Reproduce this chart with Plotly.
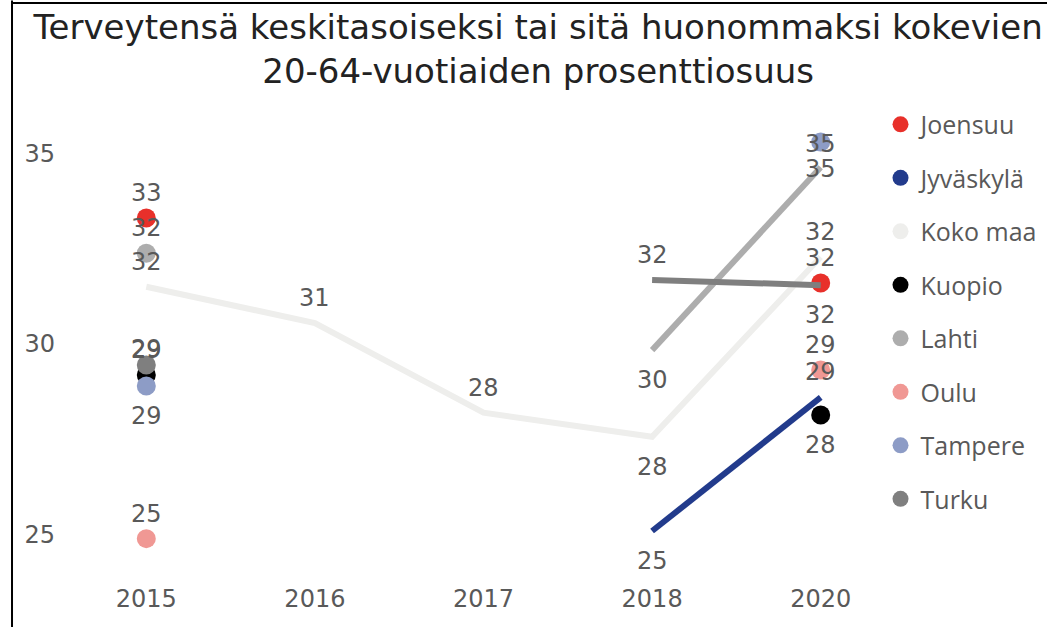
import plotly.graph_objects as go

# ---- data ----
years = ["2015", "2016", "2017", "2018", "2020"]
series_names = ["Joensuu", "Jyväskylä", "Koko maa", "Kuopio", "Lahti", "Oulu", "Tampere", "Turku"]
joensuu = [33.3, None, None, None, 31.6]
jyvaskyla = [None, None, None, 25.1, 28.6]
koko_maa = [31.5, 30.55, 28.2, 27.57, 32.28]
kuopio = [29.19, None, None, None, 28.14]
lahti = [32.38, None, None, 29.84, 34.63]
oulu = [24.9, None, None, None, 29.32]
tampere = [28.9, None, None, None, 35.29]
turku = [29.45, None, None, 31.68, 31.54]
y_ticks = [25, 30, 35]

series_values = [joensuu, jyvaskyla, koko_maa, kuopio, lahti, oulu, tampere, turku]

# ---- styles ----
colors = ["#E8302A", "#223B8C", "#EEEEEC", "#000000", "#ADADAD", "#F09894", "#8D9CC6", "#7F7F7F"]
# data label placement per point: "a" above, "s" slightly above, "b" below, "c" centred
label_pos = [
    ["a", None, None, None, "a"],
    [None, None, None, "b", "a"],
    ["a", "a", "a", "b", "a"],
    ["a", None, None, None, "b"],
    ["a", None, None, "b", "c"],
    ["a", None, None, None, "a"],
    ["b", None, None, None, "c"],
    ["s", None, None, "a", "b"],
]
shift = {"a": 25, "s": 16, "b": -30, "c": -2}
label_color = "#595959"
label_font = dict(family="DejaVu Sans", size=24, color=label_color)

fig = go.Figure()

for name, vals, col in zip(series_names, series_values, colors):
    # line segments between consecutive present values
    fig.add_trace(go.Scatter(
        x=years, y=vals, mode="lines", connectgaps=False,
        line=dict(color=col, width=6), showlegend=False, hoverinfo="skip",
        legendgroup=name,
    ))
    # isolated points as dots
    iso_x, iso_y = [], []
    for i, v in enumerate(vals):
        if v is None:
            continue
        prev_v = vals[i - 1] if i > 0 else None
        next_v = vals[i + 1] if i < len(vals) - 1 else None
        if prev_v is None and next_v is None:
            iso_x.append(years[i])
            iso_y.append(v)
    fig.add_trace(go.Scatter(
        x=iso_x, y=iso_y, mode="markers",
        marker=dict(color=col, size=19), showlegend=False, legendgroup=name,
    ))
    # legend entry
    fig.add_trace(go.Scatter(
        x=[None], y=[None], mode="markers", name=name, legendgroup=name,
        marker=dict(color=col, size=19),
    ))

annotations = []
for vals, pos in zip(series_values, label_pos):
    for i, v in enumerate(vals):
        if v is None or pos[i] is None:
            continue
        annotations.append(dict(
            x=i, y=v, xref="x", yref="y", text=str(int(v + 0.5)),
            showarrow=False, yshift=shift[pos[i]], font=label_font,
        ))

fig.update_layout(
    width=1047, height=627,
    margin=dict(l=62, r=142, t=115, b=54, autoexpand=False),
    paper_bgcolor="white", plot_bgcolor="white",
    title=dict(
        text="Terveytensä keskitasoiseksi tai sitä huonommaksi kokevien<br>20-64-vuotiaiden prosenttiosuus",
        x=0.514, xanchor="center", xref="container", y=0.938, yanchor="top", yref="container",
        font=dict(family="DejaVu Sans", size=34, color="#222222"),
    ),
    xaxis=dict(
        type="category", categoryorder="array", categoryarray=years,
        range=[-0.5, 4.5], showgrid=False, zeroline=False, showline=False,
        tickfont=dict(family="DejaVu Sans", size=24, color=label_color),
        ticklabelstandoff=9,
    ),
    yaxis=dict(
        range=[24, 36], tickvals=y_ticks, showgrid=False, zeroline=False, showline=False,
        tickfont=dict(family="DejaVu Sans", size=24, color=label_color),
        ticklabelstandoff=6,
    ),
    legend=dict(
        xref="container", yref="container",
        x=0.841, xanchor="left", y=0.838, yanchor="top",
        font=dict(family="Open Sans", size=25, color=label_color),
        tracegroupgap=18, bgcolor="rgba(0,0,0,0)", maxheight=1,
    ),
    annotations=annotations,
    shapes=[
        dict(type="line", xref="paper", yref="paper", x0=-0.0593, x1=-0.0593, y0=1.25, y1=-0.2,
             line=dict(color="#000000", width=2)),
        dict(type="line", xref="paper", yref="paper", x0=-0.0593, x1=1.2, y0=1.2445, y1=1.2445,
             line=dict(color="#000000", width=2)),
    ],
)

fig.write_html(
    "out.html",
    config={"displayModeBar": False},
    post_script="document.body.style.margin='0px';",
)
